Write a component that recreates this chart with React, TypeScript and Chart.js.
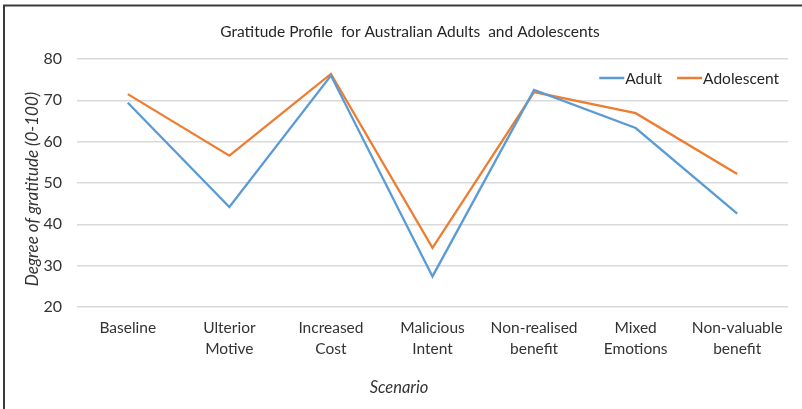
import { useEffect, useRef } from "react";
import { Chart, registerables } from "chart.js";

Chart.register(...registerables);

const categories: string[][] = [
  ["Baseline"],
  ["Ulterior", "Motive"],
  ["Increased", "Cost"],
  ["Malicious", "Intent"],
  ["Non-realised", "benefit"],
  ["Mixed", "Emotions"],
  ["Non-valuable", "benefit"],
];
const adultValues = [69.4, 44.2, 76.0, 27.4, 72.5, 63.3, 42.6];
const adolescentValues = [71.5, 56.6, 76.4, 34.3, 72.0, 66.9, 52.2];
const yMin = 20;
const yMax = 80;
const yStep = 10;

const chartTitle = "Gratitude Profile  for Australian Adults  and Adolescents";
const yTitle = "Degree of gratitude (0-100)";
const xTitle = "Scenario";

const FONT = "Lato, 'Open Sans', sans-serif";
const TEXT = "#333333";

const framePlugin = {
  id: "frame",
  beforeDraw(chart: any) {
    const { ctx, width, height } = chart;
    ctx.save();
    ctx.fillStyle = "#ffffff";
    ctx.fillRect(0, 0, width, height);
    ctx.strokeStyle = "#3a3a3a";
    ctx.lineWidth = 2;
    ctx.beginPath();
    ctx.moveTo(4, height);
    ctx.lineTo(4, 5.5);
    ctx.lineTo(width, 5.5);
    ctx.stroke();
    ctx.restore();
  },
};

// Axis titles placed like the original (Excel centres them on the whole frame)
const axisTitlePlugin = {
  id: "axisTitles",
  afterDraw(chart: any) {
    const { ctx, chartArea, width } = chart;
    ctx.save();
    ctx.fillStyle = TEXT;
    ctx.textAlign = "center";
    ctx.textBaseline = "middle";
    ctx.font = `italic 16.5px ${FONT}`;
    ctx.fillText(xTitle, width / 2 - 2, chartArea.bottom + 81);
    ctx.translate(33, (chartArea.top + chartArea.bottom) / 2 + 6);
    ctx.rotate(-Math.PI / 2);
    ctx.font = `italic 17px ${FONT}`;
    ctx.fillText(yTitle, 0, 0);
    ctx.restore();
  },
};

const legendPlugin = {
  id: "insideLegend",
  afterDraw(chart: any) {
    const { ctx, chartArea } = chart;
    ctx.save();
    ctx.font = `15.5px ${FONT}`;
    ctx.textBaseline = "middle";
    ctx.textAlign = "left";
    const lineW = 25;
    const gap = 1;
    const itemGap = 15;
    const items = chart.data.datasets.map((ds: any) => ({
      label: ds.label,
      color: ds.borderColor,
      w: lineW + gap + ctx.measureText(ds.label).width,
    }));
    const total =
      items.reduce((s: number, i: any) => s + i.w, 0) + itemGap * (items.length - 1);
    let x = chartArea.right - 9 - total;
    const y = chartArea.top + 19;
    for (const it of items) {
      ctx.strokeStyle = it.color;
      ctx.lineWidth = 2.5;
      ctx.beginPath();
      ctx.moveTo(x, y);
      ctx.lineTo(x + lineW, y);
      ctx.stroke();
      ctx.fillStyle = "#262626";
      ctx.fillText(it.label, x + lineW + gap, y + 1);
      x += it.w + itemGap;
    }
    ctx.restore();
  },
};

export default function App() {
  const ref = useRef<HTMLCanvasElement | null>(null);

  useEffect(() => {
    document.body.style.margin = "0";
    if (!ref.current) return;
    const chart = new Chart(ref.current, {
      type: "line",
      data: {
        labels: categories,
        datasets: [
          {
            label: "Adult",
            data: adultValues,
            borderColor: "#5B9BD5",
            backgroundColor: "#5B9BD5",
            borderWidth: 2.3,
            pointRadius: 0,
            tension: 0,
          },
          {
            label: "Adolescent",
            data: adolescentValues,
            borderColor: "#ED7D31",
            backgroundColor: "#ED7D31",
            borderWidth: 2.3,
            pointRadius: 0,
            tension: 0,
          },
        ],
      },
      options: {
        responsive: false,
        animation: false,
        layout: { padding: { left: 32, right: 14, top: 0, bottom: 0 } },
        plugins: {
          legend: { display: false },
          tooltip: { enabled: false },
          title: {
            display: true,
            text: chartTitle,
            color: "#262626",
            font: { family: FONT, size: 15.5, weight: "normal", lineHeight: 1.2 },
            padding: { top: 22.7, bottom: 17.7 },
          },
        },
        scales: {
          x: {
            offset: true,
            grid: { display: false, drawTicks: false },
            border: { display: false },
            ticks: {
              color: TEXT,
              padding: 11,
              maxRotation: 0,
              autoSkip: false,
              font: { family: FONT, size: 15.5, lineHeight: 1.35 },
            },
            afterFit(scale: any) {
              scale.height = 102;
            },
          },
          y: {
            min: yMin,
            max: yMax,
            grid: { color: "#d9d9d9", lineWidth: 1.5, drawTicks: false },
            border: { display: false },
            ticks: {
              stepSize: yStep,
              color: TEXT,
              padding: 15,
              font: { family: FONT, size: 16 },
            },
            afterFit(scale: any) {
              scale.width = 45;
            },
          },
        },
      },
      plugins: [framePlugin, axisTitlePlugin, legendPlugin],
    });
    return () => chart.destroy();
  }, []);

  return (
    <div style={{ width: 802, height: 409 }}>
      <canvas ref={ref} width={802} height={409} style={{ display: "block" }} />
    </div>
  );
}
